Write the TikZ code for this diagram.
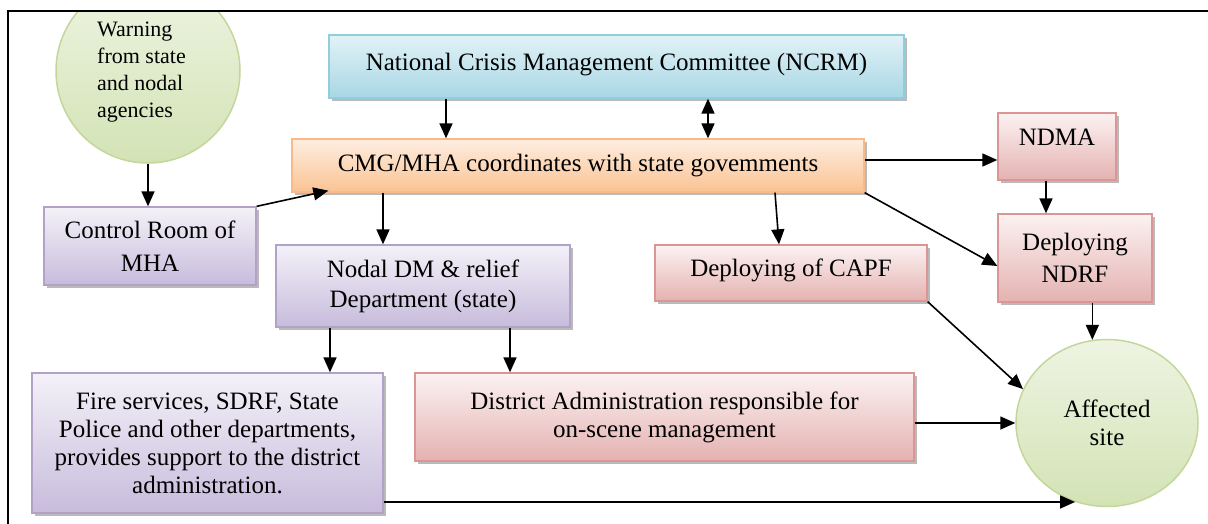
\documentclass[tikz,border=0pt]{standalone}
\usepackage{fontspec}
\setmainfont{Liberation Serif}
\usetikzlibrary{arrows.meta,shadows,calc,shapes.geometric}

\definecolor{blueTop}{HTML}{E2F2F7}
\definecolor{blueBot}{HTML}{A8D7E5}
\definecolor{blueLine}{HTML}{93CDDD}
\definecolor{orTop}{HTML}{FEEEE1}
\definecolor{orBot}{HTML}{FAC392}
\definecolor{orLine}{HTML}{F9B98A}
\definecolor{puTop}{HTML}{F4F1F8}
\definecolor{puBot}{HTML}{C7BCDC}
\definecolor{puLine}{HTML}{B3A2C7}
\definecolor{reTop}{HTML}{FCF2F2}
\definecolor{reBot}{HTML}{E4B2B1}
\definecolor{reLine}{HTML}{D99694}
\definecolor{grTop}{HTML}{EEF4E2}
\definecolor{grBot}{HTML}{D3E3B5}
\definecolor{grLine}{HTML}{C3D69B}

\newcommand\bxfont{\fontsize{25}{29}\selectfont}
\newcommand\wrnfont{\fontsize{22}{27}\selectfont}

\begin{document}
\begin{tikzpicture}[x=1pt,y=-1pt,
  box/.style={rectangle, line width=1.3pt, inner sep=3pt, align=center,
    font=\bxfont,
    drop shadow={shadow xshift=3pt, shadow yshift=-3pt, opacity=0.45, fill=black!60}},
  bluebox/.style={box, draw=blueLine, top color=blueTop, bottom color=blueBot},
  orbox/.style={box, draw=orLine, top color=orTop, bottom color=orBot},
  pubox/.style={box, draw=puLine, top color=puTop, bottom color=puBot},
  rebox/.style={box, draw=reLine, top color=reTop, bottom color=reBot},
  greenshape/.style={draw=grLine, line width=1.5pt, top color=grTop, bottom color=grBot,
    inner sep=0pt, align=center, font=\bxfont},
  arr/.style={line width=1.6pt, -{Triangle[length=15pt,width=13pt]}},
  dbl/.style={line width=1.6pt, {Triangle[length=15pt,width=13pt]}-{Triangle[length=15pt,width=13pt]}}
]
\useasboundingbox (0,0) rectangle (1208,524);
\fill[white] (0,0) rectangle (1208,524);

% warning circle, cut off by the frame
\begin{scope}
  \clip (8,11) rectangle (1208,524);
  \node[greenshape, circle, minimum size=184pt] (warn) at (148,71) {};
\end{scope}
\node[anchor=west, align=left, inner sep=0pt, font=\wrnfont] (warntxt) at (97,72)
  {Warning\\from state\\and nodal\\agencies};

% frame
\draw[line width=2pt] (8,524) -- (8,11) -- (1208,11);

% boxes
\node[bluebox, minimum width=575pt, minimum height=63pt, text height=17pt, text depth=9.4pt]
  (ncrm) at (616.5,66.5) {National Crisis Management Committee (NCRM)};
\node[orbox, minimum width=572pt, minimum height=53pt]
  (cmg) at (578,165.5) {CMG/MHA coordinates with state govemments};
\node[rebox, minimum width=118pt, minimum height=67pt, text height=16pt, text depth=18.4pt]
  (ndma) at (1057,146.5) {NDMA};
\node[rebox, minimum width=154pt, minimum height=88pt, font=\fontsize{25}{32}\selectfont]
  (ndrf) at (1075,258) {Deploying\\NDRF};
\node[rebox, minimum width=272pt, minimum height=56pt, text height=17pt, text depth=10.4pt]
  (capf) at (791,273) {Deploying of CAPF};
\node[pubox, minimum width=212pt, minimum height=78pt, font=\fontsize{25}{33}\selectfont]
  (ctrl) at (150,246) {Control Room of\\MHA};
\node[pubox, minimum width=294pt, minimum height=82pt, font=\fontsize{25}{30}\selectfont]
  (nodal) at (423,286) {Nodal DM \& relief\\Department (state)};
\node[pubox, minimum width=351pt, minimum height=140pt, font=\fontsize{25}{28}\selectfont]
  (fire) at (207.5,443) {Fire services, SDRF, State\\Police and other departments,\\provides support to the district\\administration.};
\node[rebox, minimum width=499pt, minimum height=88pt, font=\fontsize{25}{28}\selectfont]
  (dist) at (664.5,417) {District Administration responsible for\\on-scene management};
\node[greenshape, ellipse, minimum width=182pt, minimum height=167pt, font=\fontsize{25}{28}\selectfont]
  (aff) at (1107,423) {Affected\\site};

% connectors
\coordinate (xa) at (446,0);
\coordinate (xb) at (708,0);
\coordinate (xc) at (383,0);
\coordinate (yd) at (0,160);
\coordinate (xe) at (1046,0);
\coordinate (xf) at (330,0);
\coordinate (xg) at (510,0);

\draw[arr] (warn.south) -- (warn.south |- ctrl.north);
\draw[arr] (ctrl.north east) -- ($(cmg.south west)+(37,-2)$);
\draw[arr] (xa |- ncrm.south) -- (xa |- cmg.north);
\draw[dbl] (xb |- ncrm.south) -- (xb |- cmg.north);
\draw[arr] (xc |- cmg.south) -- (xc |- nodal.north);
\draw[arr] ($(cmg.south)+(197,0)$) -- ($(capf.north)+(-12,0)$);
\draw[arr] (cmg.east |- yd) -- (ndma.west |- yd);
\draw[arr] (xe |- ndma.south) -- (xe |- ndrf.north);
\draw[arr] (cmg.south east) -- ($(ndrf.west)+(0,8)$);
\draw[arr] (aff.100 |- ndrf.south) -- (aff.100);
\draw[arr] (capf.south east) -- (aff.158);
\draw[arr] (dist.east |- aff.west) -- (aff.west);
\draw[arr] (xf |- nodal.south) -- (xf |- fire.north);
\draw[arr] (xg |- nodal.south) -- (xg |- dist.north);
\draw[arr] (fire.east |- aff.248) -- (aff.248);
\end{tikzpicture}
\end{document}
